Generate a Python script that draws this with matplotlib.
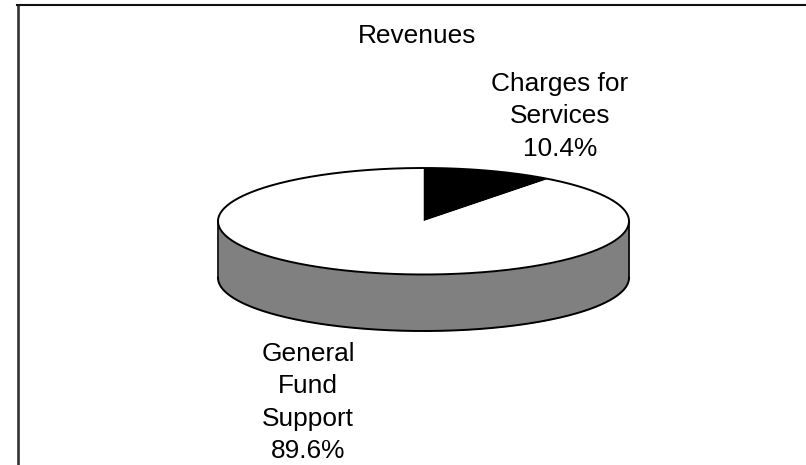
import numpy as np
import matplotlib
matplotlib.use("Agg")
import matplotlib.pyplot as plt
from matplotlib.lines import Line2D

plt.rcParams['font.family'] = ['Liberation Sans', 'DejaVu Sans']

title = "Revenues"
categories = ["Charges for\nServices", "General\nFund\nSupport"]
shares = [10.4, 89.6]
slice_colors = ["black", "white"]

W, H = 806, 465
fig = plt.figure(figsize=(W / 100, H / 100), dpi=100)

# pie top is squashed into an ellipse, axes spans the ellipse in pixels
left, right, top, bottom = 218, 629, 168, 274.5
ax = fig.add_axes([left / W, 1 - bottom / H, (right - left) / W, (bottom - top) / H])
wedges, _ = ax.pie(shares, colors=slice_colors, startangle=90, counterclock=False,
                   radius=1, wedgeprops={'linewidth': 0})
ax.set_aspect('auto')
ax.set_xlim(-1, 1)
ax.set_ylim(-1, 1)

# rim of the disc
depth = 56.5 / ((bottom - top) / 2)
t = np.linspace(np.pi, 2 * np.pi, 200)
xs = np.cos(t)
ys = np.sin(t)
ax.fill_between(xs, ys, ys - depth, color="#808080", lw=0, zorder=0, clip_on=False)
ax.plot(xs, ys - depth, color="black", lw=1.4, zorder=3, clip_on=False)
ax.plot([-1, -1], [0, -depth], color="black", lw=1.2, zorder=3, clip_on=False)
ax.plot([1, 1], [0, -depth], color="black", lw=1.2, zorder=3, clip_on=False)

# outline of the top
t2 = np.linspace(0, 2 * np.pi, 400)
ax.plot(np.cos(t2), np.sin(t2), color="black", lw=1.4, zorder=3, clip_on=False)

# chart frame, only left and top show
fig.add_artist(Line2D([18 / W, 18 / W], [0, 1 - 5 / H], color="#333333", lw=1.9))
fig.add_artist(Line2D([17 / W, 1], [1 - 5 / H, 1 - 5 / H], color="#111111", lw=1.5))

fs = 18.9
fig.text(417 / W, 1 - 43 / H, title, ha='center', va='baseline', fontsize=fs, color="black")
fig.text(560 / W, 1 - 155.7 / H, categories[0] + "\n" + str(shares[0]) + "%", ha='center',
         va='baseline', fontsize=fs, linespacing=1.445, color="black")
fig.text(308 / W, 1 - 458 / H, categories[1] + "\n" + str(shares[1]) + "%", ha='center',
         va='baseline', fontsize=fs, linespacing=1.445, color="black")

fig.savefig("out.png", dpi=100)
